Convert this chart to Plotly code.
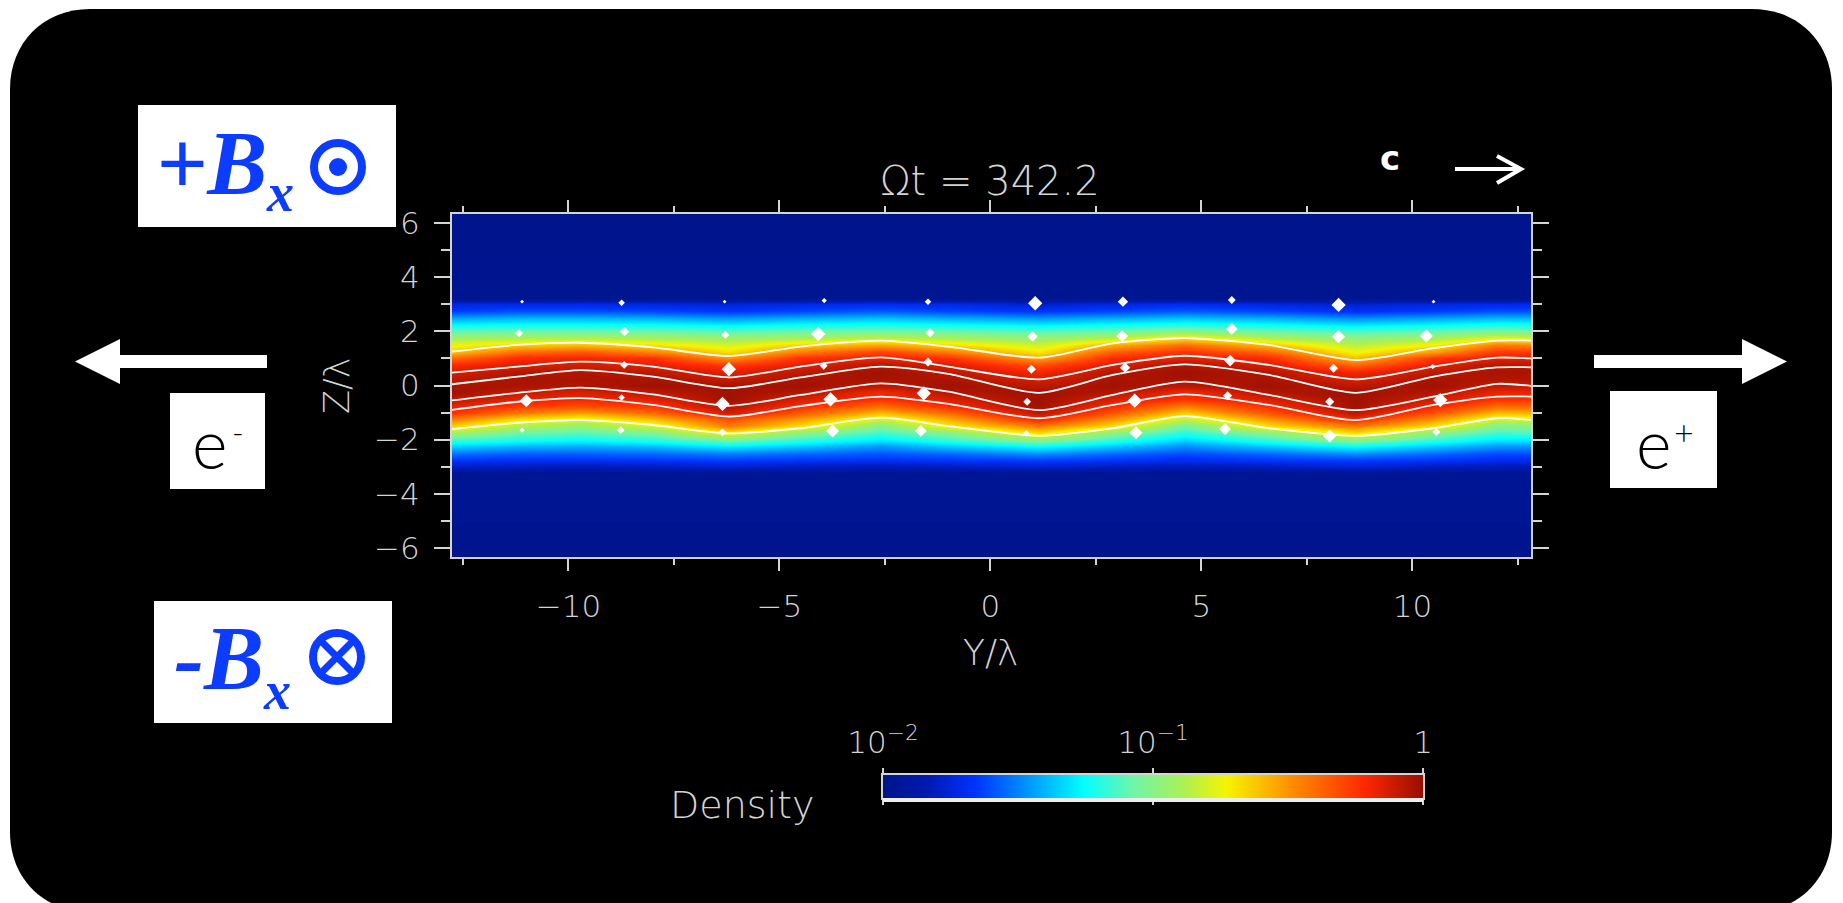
import plotly.graph_objects as go

# ---------- data ----------
y_nodes = [-12.8, -11.2, -9.7, -8, -6.2, -4.5, -2.6, -1, 1.15, 2.9, 4.6, 6.6, 8.65, 10.5, 12, 12.85]
z_rows = [6.42, 3.25, 3.0, 2.75, 2.5, 2.25, 2.0, 1.75, 1.5, 1.25, 1.0, 0.75, 0.5, 0.25, 0, -0.25, -0.5,
          -0.75, -1.0, -1.25, -1.5, -1.75, -2.0, -2.25, -2.5, -2.75, -3.0, -3.25, -6.42]

# position on the colour bar (percent of its length), one list per Y node, top to bottom
col_m128 = [0,1,13,18,28,37,45,54,62,69,80,89,93,96,98,99,96,92,88,78,68,54,42,33,24,17,10,2,0]
col_m112 = [0,1,14,20,30,38,46,55,68,80,89,93,97,98,98,95,92,87,78,66,56,46,39,30,22,16,9,2,0]
col_m97  = [0,1,14,20,30,38,46,56,70,83,90,94,97,98,97,93,90,84,73,62,52,44,37,29,22,16,8,2,0]
col_m80  = [0,1,13,19,29,38,46,55,66,77,88,92,96,98,99,96,92,88,80,70,60,48,40,31,23,17,9,2,0]
col_m62  = [0,1,12,17,27,36,44,53,60,66,75,87,92,95,98,99,99,97,94,84,78,64,47,36,25,18,11,2,0]
col_m45  = [0,1,14,19,29,38,46,55,68,78,88,92,96,98,99,97,93,89,82,74,66,50,41,32,23,17,9,2,0]
col_m26  = [0,1,15,21,31,39,47,58,73,86,91,97,99,98,96,90,88,80,70,60,49,42,35,27,21,16,8,2,0]
col_m10  = [0,1,14,19,29,38,46,55,67,78,88,93,96,98,99,97,93,89,80,72,64,49,41,32,23,17,9,2,0]
col_p12  = [0,1,11,17,27,36,44,52,59,65,73,84,90,93,96,99,99,99,96,90,78,66,50,38,27,18,11,2,0]
col_p29  = [0,1,13,19,29,38,46,57,72,82,89,93,97,98,99,97,93,89,83,75,66,50,41,32,23,17,9,2,0]
col_p46  = [0,1,15,21,31,40,50,66,80,88,92,98,99,98,96,90,88,78,68,58,47,40,33,26,20,15,8,2,0]
col_p66  = [0,1,13,19,29,38,46,56,70,81,89,93,97,98,99,97,93,89,83,75,66,50,41,32,23,17,9,2,0]
col_p87  = [0,1,11,16,26,35,43,51,57,63,70,81,90,93,96,99,99,99,96,90,78,66,50,38,27,18,12,2,0]
col_p105 = [0,1,13,18,28,37,45,54,64,74,87,92,96,98,99,97,94,90,83,75,66,50,41,32,23,17,9,2,0]
col_p120 = [0,1,14,20,30,39,48,62,78,87,92,97,98,97,95,91,88,80,70,60,49,42,35,27,20,15,8,2,0]
col_p128 = [0,1,14,20,30,39,47,60,77,87,92,96,98,97,95,91,88,81,71,61,50,43,35,27,20,15,8,2,0]
columns = [col_m128, col_m112, col_m97, col_m80, col_m62, col_m45, col_m26, col_m10,
           col_p12, col_p29, col_p46, col_p66, col_p87, col_p105, col_p120, col_p128]

# white field lines, z at each Y node
line_1 = [1.25, 1.50, 1.58, 1.41, 1.09, 1.44, 1.66, 1.44, 1.03, 1.56, 1.75, 1.50, 0.94, 1.38, 1.66, 1.66]
line_2 = [0.47, 0.70, 0.88, 0.70, 0.30, 0.70, 1.04, 0.70, 0.23, 0.76, 1.10, 0.76, 0.23, 0.70, 1.03, 1.00]
line_3 = [0.04, 0.33, 0.57, 0.33, -0.10, 0.30, 0.70, 0.43, -0.27, 0.39, 0.78, 0.39, -0.27, 0.33, 0.67, 0.67]
line_4 = [-0.56, -0.27, -0.08, -0.33, -0.75, -0.35, 0.08, -0.23, -0.91, -0.35, 0.14, -0.35, -0.91, -0.41, 0.06, -0.02]
line_5 = [-0.91, -0.60, -0.47, -0.72, -1.15, -0.76, -0.41, -0.68, -1.21, -0.72, -0.33, -0.72, -1.28, -0.72, -0.41, -0.41]
line_6 = [-1.62, -1.38, -1.28, -1.46, -1.77, -1.58, -1.19, -1.50, -1.86, -1.58, -1.13, -1.58, -1.86, -1.58, -1.21, -1.28]
field_lines = [line_1, line_2, line_3, line_4, line_5, line_6]

# white velocity marks
mark_y = [-11.1,-8.74,-6.3,-3.94,-1.48,-11.17,-8.67,-6.28,-4.08,-1.43,-8.68,-6.2,-3.95,-1.48,-11,-8.74,-6.35,-3.79,-1.58,
          -11.1,-8.76,-6.35,-3.74,-1.65,1.06,3.14,5.72,8.25,10.5,12.83,1,3.12,5.72,8.25,10.33,12.95,0.97,3.19,5.68,8.13,
          10.48,12.89,0.87,3.42,5.62,8.04,10.66,12.85,0.85,3.45,5.56,8.04,10.57]
mark_z = [3.1,3.06,3.1,3.14,3.1,1.93,1.99,1.87,1.9,1.95,0.76,0.6,0.73,0.87,-0.56,-0.44,-0.68,-0.51,-0.29,
          -1.65,-1.65,-1.73,-1.68,-1.68,3.04,3.1,3.16,2.98,3.1,3.16,1.81,1.83,2.09,1.8,1.83,2.05,0.6,0.66,0.92,0.64,
          0.7,0.92,-0.6,-0.56,-0.38,-0.6,-0.54,-0.35,-1.77,-1.75,-1.61,-1.87,-1.72]
mark_s = [3,5,3,4,5,6,7,6,11,7,6,11,6,7,10,5,11,11,11,
          4,6,6,10,9,11,8,6,11,3,6,8,9,9,10,10,9,7,8,9,7,
          4,9,6,11,7,7,11,7,5,10,9,10,6]

cb_levels = [-2, -1.9, -1.8, -1.7, -1.6, -1.5, -1.4, -1.3, -1.2, -1.1, -1, -0.9, -0.8, -0.7, -0.6, -0.5, -0.4, -0.3, -0.2, -0.1, 0]

x_ticks = [-10, -5, 0, 5, 10]
x_labels = ["−10", "−5", "0", "5", "10"]
x_minor = [-12.5, -7.5, -2.5, 2.5, 7.5, 12.5]
y_ticks = [-6, -4, -2, 0, 2, 4, 6]
y_labels = ["−6", "−4", "−2", "0", "2", "4", "6"]
y_minor = [-5, -3, -1, 1, 3, 5]
cb_ticks = [-2, -1, 0]
cb_labels = ["10<sup>−2</sup>", "10<sup>−1</sup>", "1"]

# ---------- styling ----------
W, H = 1843, 903
px = lambda v: v / W
py = lambda v: 1 - v / H
GREY = "#d4d4d4"
BLUE = "#0b3cff"
FONT = "DejaVu Sans"
NAVY = "rgb(0,20,140)"
cscale = [[0, NAVY], [0.08, "rgb(0,25,175)"], [0.17, "rgb(0,50,255)"], [0.37, "rgb(0,255,255)"],
          [0.46, "rgb(110,245,170)"], [0.56, "rgb(175,240,80)"], [0.635, "rgb(245,245,0)"],
          [0.77, "rgb(255,130,0)"], [0.89, "rgb(255,40,0)"], [1, "rgb(150,15,0)"]]

log_density = [[-2 + 2 * col[r] / 100 for col in columns] for r in range(len(z_rows))]

fig = go.Figure()
fig.add_trace(go.Heatmap(x=y_nodes, y=z_rows, z=log_density, zmin=-2, zmax=0, colorscale=cscale,
                         zsmooth="best", showscale=False, hoverinfo="skip"))
for ln in field_lines:
    fig.add_trace(go.Scatter(x=y_nodes, y=ln, mode="lines", hoverinfo="skip", showlegend=False,
                             line=dict(color="white", width=1.8, shape="spline", smoothing=0.7)))
fig.add_trace(go.Scatter(x=mark_y, y=mark_z, mode="markers", cliponaxis=False, hoverinfo="skip", showlegend=False,
                         marker=dict(color="white", opacity=1, size=mark_s, symbol="diamond", line=dict(width=0))))
fig.add_trace(go.Heatmap(x=cb_levels, y=[0, 1], z=[cb_levels, cb_levels], zmin=-2, zmax=0, colorscale=cscale,
                         zsmooth="best", showscale=False, xaxis="x2", yaxis="y2", hoverinfo="skip"))

tickfont = dict(family=FONT, size=31, color=GREY, weight=200)
fig.update_layout(
    width=W, height=H, margin=dict(l=0, r=0, t=0, b=0, autoexpand=False), autosize=False,
    paper_bgcolor="white", plot_bgcolor=NAVY, showlegend=False,
    xaxis=dict(domain=[px(452), px(1531)], range=[-12.76, 12.81], automargin=False, tickmode="array", tickvals=x_ticks, ticktext=x_labels,
               ticks="outside", ticklen=12, tickwidth=2, tickcolor=GREY, showline=True, linecolor=GREY, linewidth=2,
               mirror="ticks", showgrid=False, zeroline=False, tickfont=tickfont, ticklabelstandoff=9,
               minor=dict(tickmode="array", tickvals=x_minor, ticks="outside", ticklen=6, tickwidth=2, tickcolor=GREY, showgrid=False)),
    yaxis=dict(domain=[py(557), py(214)], range=[-6.34, 6.34], automargin=False, tickmode="array", tickvals=y_ticks, ticktext=y_labels,
               ticks="outside", ticklen=16, tickwidth=2, tickcolor=GREY, showline=True, linecolor=GREY, linewidth=2,
               mirror="ticks", showgrid=False, zeroline=False, tickfont=tickfont, ticklabelstandoff=8,
               minor=dict(tickmode="array", tickvals=y_minor, ticks="outside", ticklen=9, tickwidth=2, tickcolor=GREY, showgrid=False)),
    xaxis2=dict(domain=[px(883), px(1423)], range=[-2, 0], automargin=False, anchor="y2", side="top", tickmode="array", tickvals=cb_ticks,
                ticktext=cb_labels, ticks="outside", ticklen=5, tickwidth=2, tickcolor=GREY, showline=True, linecolor=GREY,
                linewidth=2, mirror="ticks", showgrid=False, zeroline=False, tickfont=tickfont, ticklabelstandoff=3),
    yaxis2=dict(domain=[py(798), py(775)], range=[0, 1], automargin=False, anchor="x2", showticklabels=False, ticks="", showgrid=False,
                zeroline=False, showline=True, linecolor=GREY, linewidth=2, mirror=True),
)

def rect(x0, y0, x1, y1, color="white", **kw):
    return dict(type="rect", xref="paper", yref="paper", x0=px(x0), x1=px(x1), y0=py(y0), y1=py(y1),
                fillcolor=color, line=dict(width=0), **kw)

def path(points, closed=True, fill="white", line=None):
    d = "M " + " L ".join(f"{px(a):.5f},{py(b):.5f}" for a, b in points) + (" Z" if closed else "")
    return dict(type="path", xref="paper", yref="paper", path=d, fillcolor=fill if closed else "rgba(0,0,0,0)",
                line=line or dict(width=0))

def circle(cx, cy, r, fill=None, lw=0):
    return dict(type="circle", xref="paper", yref="paper", x0=px(cx - r), x1=px(cx + r), y0=py(cy + r), y1=py(cy - r),
                fillcolor=fill or "rgba(0,0,0,0)", line=dict(color=BLUE, width=lw))

L, T, R, B, C = 10, 9, 1832, 912, 80
K = C * 0.42
round_d = (f"M {px(L+C)},{py(T)} L {px(R-C)},{py(T)} C {px(R-K)},{py(T)} {px(R)},{py(T+K)} {px(R)},{py(T+C)} "
           f"L {px(R)},{py(B-C)} C {px(R)},{py(B-K)} {px(R-K)},{py(B)} {px(R-C)},{py(B)} "
           f"L {px(L+C)},{py(B)} C {px(L+K)},{py(B)} {px(L)},{py(B-K)} {px(L)},{py(B-C)} "
           f"L {px(L)},{py(T+C)} C {px(L)},{py(T+K)} {px(L+K)},{py(T)} {px(L+C)},{py(T)} Z")
shapes = [dict(type="path", xref="paper", yref="paper", path=round_d, fillcolor="black", line=dict(width=0), layer="below")]
shapes += [rect(138, 105, 396, 227), rect(154, 601, 392, 723), rect(170, 393, 265, 489), rect(1610, 391, 1717, 488)]
shapes += [rect(883, 798, 1423, 802, color="#eeeeee")]
shapes += [path([(75, 361.5), (120, 339), (120, 355), (267, 355), (267, 368), (120, 368), (120, 384)])]
shapes += [path([(1787, 361.5), (1742, 339), (1742, 355), (1594, 355), (1594, 368), (1742, 368), (1742, 384)])]
shapes += [path([(1455, 169), (1521, 169)], closed=False, line=dict(color="white", width=4))]
shapes += [path([(1497, 156), (1521, 169), (1497, 183)], closed=False, line=dict(color="white", width=4))]
shapes += [circle(338, 167, 24, lw=8), circle(338, 167, 9, fill=BLUE)]
shapes += [circle(337, 657, 24, lw=8)]
shapes += [path([(320, 640), (354, 674)], closed=False, line=dict(color=BLUE, width=7)),
           path([(354, 640), (320, 674)], closed=False, line=dict(color=BLUE, width=7))]
fig.update_layout(shapes=shapes)

def label(text, x, y, size, color=GREY, family=FONT, anchor="center", angle=0, weight=None, style=None):
    f = dict(family=family, size=size, color=color)
    if weight:
        f["weight"] = weight
    if style:
        f["style"] = style
    fig.add_annotation(text=text, x=px(x), y=py(y), xref="paper", yref="paper", showarrow=False, xanchor=anchor,
                       yanchor="middle", textangle=angle, font=f)

SERIF = "Liberation Serif"
label("+B", 154, 163, 90, BLUE, SERIF, "left", weight=700, style="italic")
label("x", 264, 193, 54, BLUE, SERIF, "left", weight=700, style="italic")
label("-B", 172, 658, 90, BLUE, SERIF, "left", weight=700, style="italic")
label("x", 261, 691, 54, BLUE, SERIF, "left", weight=700, style="italic")
label("e", 209, 443, 68, "black", "Lato", weight=300)
label("-", 238, 431, 32, "black", "Lato", weight=300)
label("e", 1653, 443, 68, "black", "Lato", weight=300)
label("+", 1684, 431, 34, "black", "Lato", weight=300)
label("Ωt = 342.2", 990, 181, 40, weight=200)
label("Y/λ", 990, 652, 36, weight=200)
label("Z/λ", 337, 386, 35, angle=-90, weight=200)
label("Density", 742, 805, 38, weight=200)
label("<b>c</b>", 1390, 158, 34, "white")

fig.write_html("out.html", config={"displayModeBar": False},
               post_script="document.body.style.margin='0';document.body.style.overflow='hidden';")
